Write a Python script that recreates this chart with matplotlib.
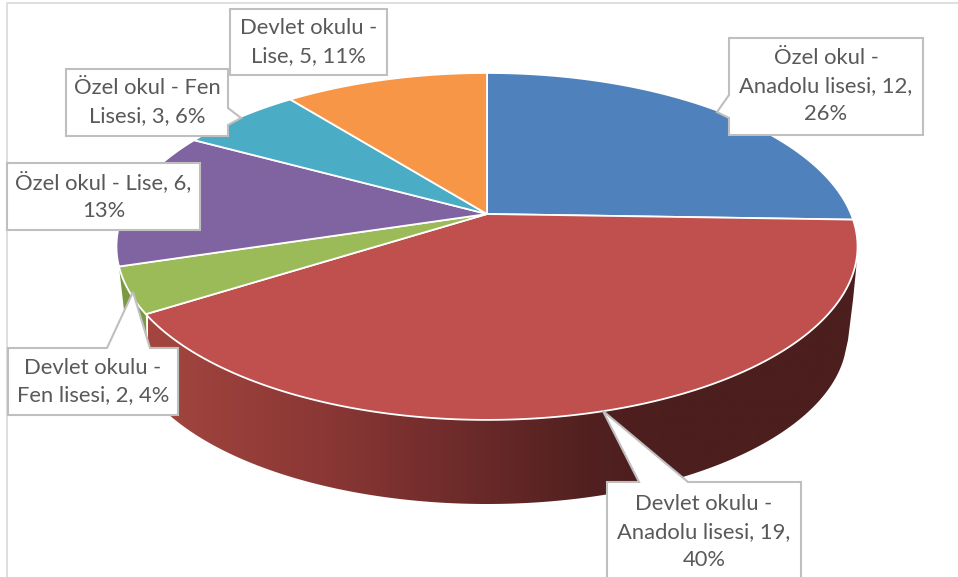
import numpy as np
import matplotlib
matplotlib.use('Agg')
import matplotlib.pyplot as plt
from matplotlib.colors import LinearSegmentedColormap
from matplotlib.patches import Polygon

plt.rcParams['font.family'] = ['Lato', 'DejaVu Sans']

# data
categories = ['Özel okul - Anadolu lisesi', 'Devlet okulu - Anadolu lisesi', 'Devlet okulu - Fen lisesi',
              'Özel okul - Lise', 'Özel okul - Fen Lisesi', 'Devlet okulu - Lise']
values = [12, 19, 2, 6, 3, 5]
colors = ['#4f81bd', '#c0504d', '#9bbb59', '#8064a2', '#4bacc6', '#f79646']
label_texts = ['Özel okul -\nAnadolu lisesi, 12,\n26%',
               'Devlet okulu -\nAnadolu lisesi, 19,\n40%',
               'Devlet okulu -\nFen lisesi, 2, 4%',
               'Özel okul - Lise, 6,\n13%',
               'Özel okul - Fen\nLisesi, 3, 6%',
               'Devlet okulu -\nLise, 5, 11%']

# label boxes in pixels: x0, x1, y0, y1, callout side, callout points
boxes = [
    (729, 923, 38, 135, 'left', [(729, 118), (717, 112), (729, 95)]),
    (607, 801, 482, 582, 'top', [(639, 482), (603, 411), (688, 482)]),
    (8, 178, 348, 415, 'top', [(107, 348), (133, 292), (150, 348)]),
    (7, 200, 163, 230, None, []),
    (66, 228, 69, 136, 'right', [(228, 108), (241, 118), (228, 125)]),
    (230, 387, 9, 75, None, []),
]

fig = plt.figure(figsize=(9.58, 5.77), dpi=100)
ax = fig.add_axes([0, 0, 1, 1])

# pie gives the angles, then they get tilted by hand
wedges, _ = ax.pie(values, startangle=90, counterclock=False, colors=colors)


def rim(theta):
    t = np.radians(theta)
    u, v = np.cos(t), np.sin(t)
    d = 1 + 0.187 * v
    return 487 + 364 * u / d, 214 - 167.4 * v / d


def lower_rim(t):
    return 487 + 360 * np.cos(t), 336 + 168 * np.sin(t)


for w in wedges:
    w.set_visible(False)
ax.set_aspect('auto')

left_end = np.pi - np.arccos(339 / 360)

# side wall, red slice
red = wedges[1]
tt = np.linspace(red.theta1, red.theta2, 200)
x_top, y_top = rim(tt)
keep = y_top >= 248
x_low, y_low = lower_rim(np.linspace(0.12, left_end, 200))
silhouette = np.array([(856, 270), (853, 300), (848, 340)])
wall = Polygon(np.r_[np.c_[x_top[keep], y_top[keep]], silhouette, np.c_[x_low, y_low]],
               closed=True, fc='none', ec='none')
ax.add_patch(wall)
wall_cmap = LinearSegmentedColormap.from_list('wall', [(0, '#a4463f'), (0.25, '#8a3735'), (0.62, '#522020'),
                                                       (0.72, '#4c1e1e'), (1, '#4c1e1e')])
img = ax.imshow(np.linspace(0, 1, 256).reshape(1, -1), extent=(148, 858, 577, 0), aspect='auto',
                cmap=wall_cmap, zorder=1)
img.set_clip_path(wall)

# side wall, green slice
green = wedges[2]
tt = np.linspace(green.theta1, green.theta2, 60)
x_top, y_top = rim(tt)
x_low, y_low = lower_rim(np.linspace(left_end, np.pi, 60))
ax.fill(np.r_[x_top, x_low], np.r_[y_top, y_low], color='#7a9a42', zorder=1, lw=0)

# top face
for w in wedges:
    tt = np.linspace(w.theta1, w.theta2, 200)
    x, y = rim(tt)
    ax.fill(np.r_[487, x], np.r_[214, y], fc=w.get_facecolor(), ec='white', lw=1.3, zorder=2,
            joinstyle='round')

# labels
for (x0, x1, y0, y1, side, tip), txt in zip(boxes, label_texts):
    top, right, left = [], [], []
    if side == 'top':
        top = tip
    elif side == 'right':
        right = tip
    elif side == 'left':
        left = tip
    pts = [(x0, y0)] + top + [(x1, y0)] + right + [(x1, y1), (x0, y1)] + left
    ax.add_patch(Polygon(pts, closed=True, fc='white', ec='#bfbfbf', lw=1.5, zorder=3))
    ax.text((x0 + x1) / 2, (y0 + y1) / 2, txt, ha='center', va='center', fontsize=15.8,
            color='#595959', linespacing=1.5, zorder=4)

# chart frame
ax.plot([7, 7, 958], [577, 3, 3], color='#d9d9d9', lw=1.2, zorder=0)

ax.set_xlim(0, 958)
ax.set_ylim(577, 0)
ax.axis('off')
fig.savefig('out.png', dpi=100)
